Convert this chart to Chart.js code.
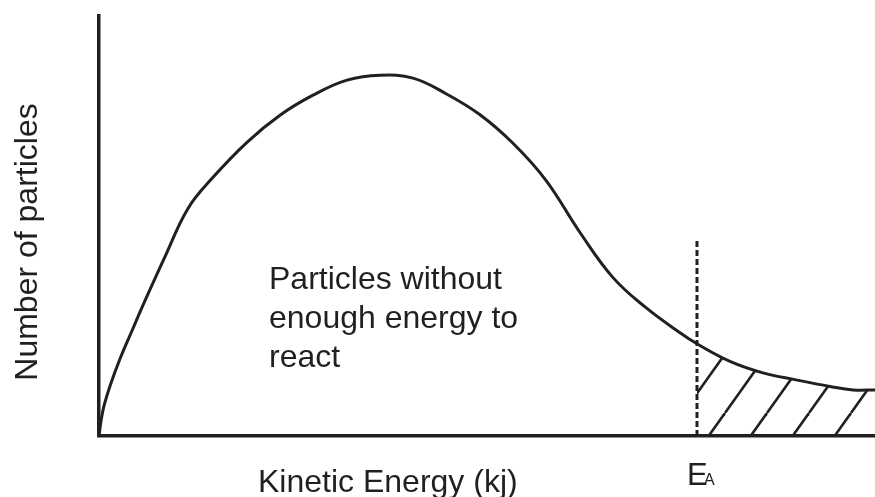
<!DOCTYPE html>
<html>
<head>
<meta charset="utf-8">
<script src="https://cdn.jsdelivr.net/npm/chart.js@4.4.1/dist/chart.umd.min.js"></script>
<style>
  html, body { margin: 0; padding: 0; background: #fff; }
  #wrap { width: 875px; height: 497px; }
</style>
</head>
<body>
<div id="wrap"><canvas id="mb"></canvas></div>
<script>
// Maxwell-Boltzmann style distribution (arbitrary units, 0-100 on both axes)
const energy    = [0, 0.26, 0.64, 1.42, 2.71, 4.25, 5.93, 8.51, 11.47, 14.69, 19.07, 23.32, 27.58, 31.96, 36.21, 40.46, 44.72, 49.10, 53.35, 57.60, 61.98, 66.24, 70.49, 74.87, 77.06, 81.31, 85.57, 89.82, 94.20, 97.16, 100];
const particles = [0, 3.58, 7.16, 11.93, 18.38, 25.06, 32.22, 42.72, 54.18, 61.58, 69.93, 76.37, 81.15, 84.73, 85.92, 85.20, 81.50, 76.49, 69.69, 60.86, 48.45, 37.71, 30.55, 24.58, 21.96, 17.78, 15.04, 13.37, 11.81, 10.98, 10.98];

// activation energy marker
const EA = 77.06;
const EA_LINE_TOP = 47;

const INK = '#231f20';
const FONT = '"Liberation Sans", Arial, Helvetica, sans-serif';

const curve = energy.map((x, i) => ({ x: x, y: particles[i] }));
const tail = curve.filter(p => p.x >= EA);

// diagonal hatching for the area past EA
function hatchPattern() {
  const w = 42, h = 59;
  const c = document.createElement('canvas');
  c.width = w; c.height = h;
  const g = c.getContext('2d');
  g.strokeStyle = INK;
  g.lineWidth = 2.6;
  for (const dx of [-w, 0, w]) {
    g.beginPath();
    g.moveTo(dx, h);
    g.lineTo(dx + w, 0);
    g.stroke();
  }
  const pat = g.createPattern(c, 'repeat');
  pat.setTransform(new DOMMatrix().translate(11, 0));
  return pat;
}

const labels = {
  id: 'labels',
  afterDraw(chart) {
    const ctx = chart.ctx;
    const xs = chart.scales.x;
    ctx.save();
    ctx.fillStyle = INK;
    ctx.textBaseline = 'alphabetic';

    ctx.font = '32px ' + FONT;
    ctx.textAlign = 'left';
    ctx.fillText('Kinetic Energy (kj)', 258, 492);

    ctx.fillText('Particles without', 269, 289);
    ctx.fillText('enough energy to', 269, 328);
    ctx.fillText('react', 269, 367);

    // E with subscript A under the EA line
    const ex = xs.getPixelForValue(EA) - 10;
    ctx.font = '31px ' + FONT;
    ctx.fillText('E', ex, 485);
    ctx.font = '16px ' + FONT;
    ctx.fillText('A', ex + 17, 485);

    ctx.font = '32px ' + FONT;
    ctx.translate(37, 242);
    ctx.rotate(-Math.PI / 2);
    ctx.textAlign = 'center';
    ctx.fillText('Number of particles', 0, 0);
    ctx.restore();
  }
};

new Chart(document.getElementById('mb'), {
  type: 'line',
  data: {
    datasets: [
      {
        data: curve,
        borderColor: INK,
        borderWidth: 3,
        pointRadius: 0,
        tension: 0.4,
        fill: false
      },
      {
        data: [{ x: EA, y: 0 }, { x: EA, y: EA_LINE_TOP }],
        borderColor: INK,
        borderWidth: 3,
        borderDash: [6, 3],
        pointRadius: 0,
        fill: false
      },
      {
        data: tail,
        borderWidth: 0,
        borderColor: 'rgba(0,0,0,0)',
        backgroundColor: hatchPattern(),
        pointRadius: 0,
        tension: 0.4,
        fill: 'origin'
      }
    ]
  },
  options: {
    responsive: true,
    maintainAspectRatio: false,
    animation: false,
    layout: { padding: { left: 91, top: 16, right: 0, bottom: 53 } },
    plugins: {
      legend: { display: false },
      tooltip: { enabled: false }
    },
    scales: {
      x: {
        type: 'linear',
        min: 0,
        max: 100,
        grid: { display: false },
        ticks: { display: false },
        border: { display: true, color: INK, width: 3.5 }
      },
      y: {
        min: 0,
        max: 100,
        grid: { display: false },
        ticks: { display: false },
        border: { display: true, color: INK, width: 3.5 }
      }
    }
  },
  plugins: [labels]
});
</script>
</body>
</html>
